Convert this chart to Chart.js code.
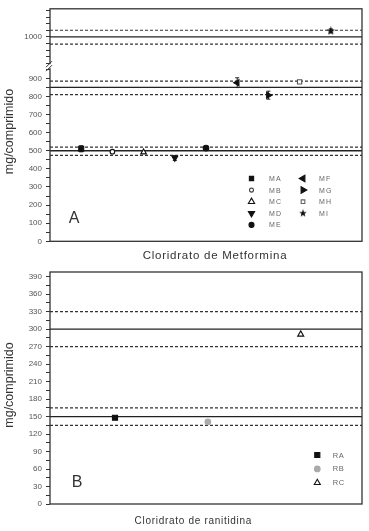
<!DOCTYPE html>
<html><head><meta charset="utf-8">
<script src="https://cdn.jsdelivr.net/npm/chart.js@4/dist/chart.umd.min.js"></script>
<style>
html,body{margin:0;padding:0;background:#fff;}
#wrap{position:relative;width:369px;height:531px;overflow:hidden;background:#fff;}
canvas{position:absolute;left:0;}
#cA{top:0;}
#cB{top:262px;}
</style></head><body>
<div id="wrap"><canvas id="cA" width="369" height="262"></canvas><canvas id="cB" width="369" height="269"></canvas></div>
<script>
// ---------------- DATA ----------------
const seriesA = ['MA','MB','MC','MD','ME','MF','MG','MH','MI'];
const positionsA = [1,2,3,4,5,6,7,8,9];
const valuesA = [511,495,492,460,515,876,807,880,1018];
const errorsA = [17,6,5,14,8,27,22,5,6];
const refMeanA = [500,850,1000];
const refUpperA = [520,885,1020];
const refLowerA = [475,810,978];
const tickLabelsLowA = [0,100,200,300,400,500,600,700,800,900];
const tickLabelsHighA = [1000];

const seriesB = ['RA','RB','RC'];
const positionsB = [1,2,3];
const valuesB = [148,141,291];
const refMeanB = [150,300];
const refUpperB = [165,330];
const refLowerB = [135,270];
const tickLabelsB = [0,30,60,90,120,150,180,210,240,270,300,330,360,390];

const titleA = 'Cloridrato de Metformina';
const titleB = 'Cloridrato de ranitidina';
const yTitle = 'mg/comprimido';

// ---------------- AXIS RANGES ----------------
const xRangeA = [0,10], xRangeB = [0.3,3.66];
const lowRangeA = [0,967], highRangeA = [911,1085];
const rangeB = [0,398];

const FONT = '"Liberation Sans", Arial, sans-serif';
Chart.defaults.font.family = FONT;

function makeStar(size){
  const c=document.createElement('canvas'); c.width=size; c.height=size;
  const g=c.getContext('2d'); g.fillStyle='#111'; g.beginPath();
  const cx=size/2, cy=size/2, R=size/2, r=R*0.42;
  for(let i=0;i<10;i++){const a=-Math.PI/2+i*Math.PI/5;const rr=i%2?r:R;g.lineTo(cx+rr*Math.cos(a),cy+rr*Math.sin(a));}
  g.closePath(); g.fill(); return c;
}
const starImg = makeStar(9);
const starImgSmall = makeStar(8);

const stylesA = [
  {pointStyle:'rect', radius:3.5, fill:'#111'},
  {pointStyle:'circle', radius:2.3, fill:'#fff'},
  {pointStyle:'triangle', radius:3.3, fill:'#fff'},
  {pointStyle:'triangle', radius:3.3, rotation:180, fill:'#111'},
  {pointStyle:'circle', radius:2.8, fill:'#111'},
  {pointStyle:'triangle', radius:3.5, rotation:-90, fill:'#111'},
  {pointStyle:'triangle', radius:3.5, rotation:90, fill:'#111'},
  {pointStyle:'rect', radius:3.0, fill:'#fff', stroke:'#555'},
  {pointStyle:starImg, radius:4.5, fill:'#111'}
];
const legendStylesA = [
  {pointStyle:'rect', radius:3.0, fill:'#111'},
  {pointStyle:'circle', radius:2.0, fill:'#fff', stroke:'#444'},
  {pointStyle:'triangle', radius:3.6, fill:'#fff'},
  {pointStyle:'triangle', radius:3.6, rotation:180, fill:'#111'},
  {pointStyle:'circle', radius:2.5, fill:'#111'},
  {pointStyle:'triangle', radius:3.8, rotation:-90, fill:'#111'},
  {pointStyle:'triangle', radius:3.8, rotation:90, fill:'#111'},
  {pointStyle:'rect', radius:2.6, fill:'#fff', stroke:'#666'},
  {pointStyle:starImgSmall, radius:4, fill:'#111'}
];
const stylesB = [
  {pointStyle:'rect', radius:3.6, fill:'#111'},
  {pointStyle:'circle', radius:2.8, fill:'#aaa', stroke:'#aaa'},
  {pointStyle:'triangle', radius:3.5, fill:'#fff'}
];

function refLines(means, ups, lows, xr, axisFor){
  const ds=[];
  means.forEach((m,i)=>{
    ds.push({type:'line',showLine:true,data:[{x:xr[0],y:m},{x:xr[1],y:m}],borderColor:'#222',borderWidth:1.3,pointRadius:0,yAxisID:axisFor(m),order:10});
    [ups[i],lows[i]].forEach(v=>ds.push({type:'line',showLine:true,data:[{x:xr[0],y:v},{x:xr[1],y:v}],borderColor:'#333',borderWidth:1.2,borderDash:[3,2],pointRadius:0,yAxisID:axisFor(v),order:10}));
  });
  return ds;
}
function pointSets(names, xs, vals, errs, styles, axisFor){
  return names.map((n,i)=>({type:'scatter',label:n,data:[{x:xs[i],y:vals[i]}],errorBar:errs?errs[i]:0,
    pointStyle:styles[i].pointStyle,pointRadius:styles[i].radius,pointRotation:styles[i].rotation||0,
    backgroundColor:styles[i].fill,borderColor:styles[i].stroke||'#111',borderWidth:1.1,yAxisID:axisFor(vals[i]),order:1}));
}

const axisForA = v => v >= highRangeA[0] ? 'yHigh' : 'yLow';
const axisForB = v => 'y';

const errorBarPlugin = {
  id:'errbars',
  beforeDatasetDraw(chart,args){
    const ds = chart.data.datasets[args.index];
    if(!ds.errorBar) return;
    const sc = chart.scales[ds.yAxisID];
    const ctx = chart.ctx;
    ds.data.forEach((p,j)=>{
      const el = args.meta.data[j];
      const x = el.x;
      const y1 = sc.getPixelForValue(p.y+ds.errorBar), y2 = sc.getPixelForValue(p.y-ds.errorBar);
      ctx.save(); ctx.strokeStyle='#222'; ctx.lineWidth=1;
      ctx.beginPath(); ctx.moveTo(x,y1); ctx.lineTo(x,y2);
      ctx.moveTo(x-2,y1); ctx.lineTo(x+2,y1); ctx.moveTo(x-2,y2); ctx.lineTo(x+2,y2);
      ctx.stroke(); ctx.restore();
    });
  }
};

function drawMarker(ctx, st, x, y){
  ctx.save();
  ctx.fillStyle = st.fill; ctx.strokeStyle = st.stroke||'#111'; ctx.lineWidth=1.1;
  Chart.helpers.drawPoint(ctx,{pointStyle:st.pointStyle,rotation:st.rotation||0,radius:st.radius,borderWidth:1.1},x,y);
  ctx.restore();
}

function decorPlugin(cfg){
  return {
    id:'decor',
    afterDraw(chart){
      const ctx=chart.ctx, a=chart.chartArea;
      ctx.save();
      ctx.strokeStyle='#333'; ctx.lineWidth=1.3;
      ctx.strokeRect(a.left,a.top,a.right-a.left,a.bottom-a.top);
      if(cfg.breakY){
        const by = chart.scales.yHigh.bottom;
        ctx.fillStyle='#fff'; ctx.fillRect(a.left-2,by-2,4,4);
        ctx.strokeStyle='#333'; ctx.lineWidth=1;
        ctx.beginPath();
        ctx.moveTo(a.left-4,by+1); ctx.lineTo(a.left+2,by-5);
        ctx.moveTo(a.left-4,by+5); ctx.lineTo(a.left+2,by-1);
        ctx.stroke();
      }
      ctx.fillStyle='#333'; ctx.textAlign='center'; ctx.textBaseline='alphabetic';
      ctx.font=cfg.xFont; ctx.letterSpacing=cfg.xSpacing;
      ctx.fillText(cfg.xTitle, a.left+cfg.xTitleDx, a.bottom+cfg.xTitleDy);
      ctx.letterSpacing='0px';
      ctx.save(); ctx.translate(10, cfg.yTitleY); ctx.rotate(-Math.PI/2);
      ctx.font='12.5px '+FONT; ctx.textAlign='center'; ctx.textBaseline='middle'; ctx.fillStyle='#333';
      ctx.fillText(yTitle,0,0); ctx.restore();
      ctx.font='16px '+FONT; ctx.textAlign='center'; ctx.textBaseline='middle'; ctx.fillStyle='#333';
      ctx.fillText(cfg.letter, a.left+cfg.letterDx, a.bottom+cfg.letterDy);
      ctx.textAlign='left'; ctx.textBaseline='middle';
      ctx.font=cfg.legFont; ctx.letterSpacing=cfg.legSpacing;
      cfg.legend.forEach(it=>{
        drawMarker(ctx,it.style,a.left+it.mx,a.bottom+it.dy);
        ctx.fillStyle='#666';
        ctx.fillText(it.name,a.left+it.tx,a.bottom+it.dy+0.5);
      });
      ctx.restore();
    }
  };
}

function yScale(range, step, labels, weight){
  return {type:'linear',position:'left',min:range[0],max:range[1],
    stack: weight? 'A': undefined, stackWeight: weight||1,
    ticks:{stepSize:step,includeBounds:false,autoSkip:false,color:'#555',font:{size:8},padding:4,
      callback:v=>labels.includes(v)?String(v):''},
    grid:{drawOnChartArea:false,tickLength:4,color:'#333',tickWidth:1},
    border:{display:false},
    afterFit:s=>{s.width=50;}};
}

// ---------------- CHART A ----------------
const legendA = seriesA.map((n,i)=>{
  const col = i<5?0:1, row = i<5?i:i-5;
  return {name:n, style:legendStylesA[i], mx: col?253:201.5, tx: col?269:219, dy: -62.8+row*11.6};
});
new Chart(document.getElementById('cA'),{
  type:'scatter',
  data:{datasets:[...refLines(refMeanA,refUpperA,refLowerA,xRangeA,axisForA),...pointSets(seriesA,positionsA,valuesA,errorsA,stylesA,axisForA)]},
  options:{responsive:false,animation:false,events:[],
    layout:{padding:{left:0,right:7,top:6,bottom:20.7}},
    plugins:{legend:{display:false},tooltip:{enabled:false}},
    scales:{
      x:{type:'linear',min:xRangeA[0],max:xRangeA[1],display:false},
      yLow:yScale(lowRangeA,50,tickLabelsLowA,177),
      yHigh:yScale(highRangeA,20,tickLabelsHighA,58)
    }},
  plugins:[errorBarPlugin,decorPlugin({breakY:true,xTitle:titleA,xFont:'11.5px '+FONT,xSpacing:'0.75px',xTitleDx:165,xTitleDy:18,
    yTitleY:131.5,letter:'A',letterDx:24,letterDy:-23,legFont:'7px '+FONT,legSpacing:'1.2px',legend:legendA})]
});

// ---------------- CHART B ----------------
const legendB = seriesB.map((n,i)=>({name:n, style:stylesB[i], mx:267.3, tx:282.7, dy:-49+i*13.9}));
new Chart(document.getElementById('cB'),{
  type:'scatter',
  data:{datasets:[...refLines(refMeanB,refUpperB,refLowerB,xRangeB,axisForB),...pointSets(seriesB,positionsB,valuesB,null,stylesB,axisForB)]},
  options:{responsive:false,animation:false,events:[],
    layout:{padding:{left:0,right:7,top:10,bottom:27}},
    plugins:{legend:{display:false},tooltip:{enabled:false}},
    scales:{
      x:{type:'linear',min:xRangeB[0],max:xRangeB[1],display:false},
      y:yScale(rangeB,15,tickLabelsB,0)
    }},
  plugins:[errorBarPlugin,decorPlugin({breakY:false,xTitle:titleB,xFont:'10px '+FONT,xSpacing:'0.7px',xTitleDx:143.3,xTitleDy:20,
    yTitleY:123,letter:'B',letterDx:27,letterDy:-21.5,legFont:'7.5px '+FONT,legSpacing:'0.6px',legend:legendB})]
});
</script>
</body></html>
